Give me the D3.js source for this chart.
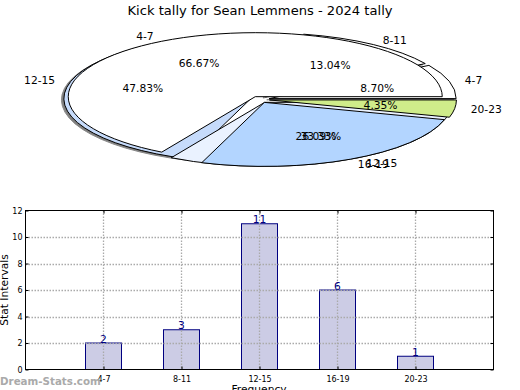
<!DOCTYPE html>
<html>
<head>
<meta charset="utf-8">
<script src="https://d3js.org/d3.v7.min.js"></script>
<style>
	html, body { margin: 0; padding: 0; background: #fff; overflow: hidden; }
	svg { display: block; }
	text { font-family: "DejaVu Sans", sans-serif; fill: #000; }
</style>
</head>
<body>
<div id="chart"></div>
<script>
	// Data
	const intervals = ["4-7", "8-11", "12-15", "16-19", "20-23"];
	const tally = [2, 3, 11, 6, 1];
	const intervalColors = ["#ffffff", "#ffffff", "#c6dbfb", "#b3d5ff", "#cfec8a"];
	const secondIntervals = ["4-7", "12-15"];
	const secondTally = [2, 1];
	const secondColors = ["#ffffff", "#eaf2ff"];
	const yTicks = [0, 2, 4, 6, 8, 10, 12];

	const width = 520, height = 390;
	const svg = d3.select("#chart").append("svg").attr("width", width).attr("height", height);

	svg.append("text").attr("x", 260).attr("y", 15).attr("text-anchor", "middle")
		.style("font-size", "13.1px").text("Kick tally for Sean Lemmens - 2024 tally");

	// Pies: squashed ellipses with exploded wedges, angles run counter clockwise from east
	const R = 187, squash = 64 / 187, cx = 260, cy = 99.5, explode = 9.5;

	const pie = d3.pie().sort(null).startAngle(Math.PI / 2).endAngle(Math.PI / 2 - 2 * Math.PI);
	const arc = d3.arc().innerRadius(0).outerRadius(R);
	const midAngle = d => Math.PI / 2 - (d.startAngle + d.endAngle) / 2;
	const polar = (d, r) => [cx + r * Math.cos(midAngle(d)), cy - r * squash * Math.sin(midAngle(d))];
	const percent = (d, vals) => d3.format(".2f")(100 * d.value / d3.sum(vals)) + "%";

	const first = pie(tally).map((d, i) => ({ ...d, name: intervals[i], color: intervalColors[i], vals: tally }));
	const second = pie(secondTally).map((d, i) => ({ ...d, name: secondIntervals[i], color: secondColors[i], vals: secondTally }));

	const drawWedges = (g, wedges) => g.selectAll("path").data(wedges).join("path")
		.attr("transform", d => {
			const p = polar(d, explode);
			return `translate(${p[0]},${p[1]}) scale(1,${squash})`;
		})
		.attr("d", arc)
		.attr("fill", d => d.color)
		.attr("stroke", "#000")
		.attr("stroke-width", 1)
		.style("vector-effect", "non-scaling-stroke");

	// shadow
	svg.append("g").attr("transform", "translate(-2.4,1.2)").call(drawWedges, first.slice(0, 3))
		.selectAll("path").attr("fill", "#808080").attr("stroke", "#888");

	drawWedges(svg.append("g"), first.slice(0, 3));
	drawWedges(svg.append("g"), second);
	drawWedges(svg.append("g"), first.slice(3));

	const pieLabels = first.concat(second);
	svg.append("g").selectAll("text").data(pieLabels).join("text")
		.attr("x", d => polar(d, R * 0.6 + explode)[0])
		.attr("y", d => polar(d, R * 0.6 + explode)[1] + 4)
		.attr("text-anchor", "middle")
		.style("font-size", "10.7px")
		.text(d => percent(d, d.vals));
	svg.append("g").selectAll("text").data(pieLabels).join("text")
		.attr("x", d => polar(d, R * 1.1 + 7)[0])
		.attr("y", d => polar(d, R * 1.1 + 7)[1] + 4)
		.attr("text-anchor", d => Math.cos(midAngle(d)) < 0 ? "end" : "start")
		.style("font-size", "10.7px")
		.text(d => d.name);

	// Bars
	const plot = { left: 25.5, right: 493.5, top: 210.5, bottom: 369.5 };
	const x = d3.scalePoint().domain(["", ...intervals, " "]).range([plot.left, plot.right]);
	const y = d3.scaleLinear().domain([0, 12]).range([plot.bottom, plot.top]);
	const barWidth = 36;

	svg.append("g").selectAll("rect").data(intervals).join("rect")
		.attr("x", d => x(d) - barWidth / 2)
		.attr("y", (d, i) => y(tally[i]))
		.attr("width", barWidth)
		.attr("height", (d, i) => y(0) - y(tally[i]))
		.attr("fill", "#ccccE5")
		.attr("stroke", "#000080");

	const grid = svg.append("g").attr("stroke", "#aaa").attr("stroke-dasharray", "1.5,1.5").attr("stroke-width", 1.3);
	grid.selectAll(".gy").data(yTicks.slice(1, -1)).join("line").attr("class", "gy")
		.attr("x1", plot.left).attr("x2", plot.right).attr("y1", d => Math.round(y(d)) + 0.5).attr("y2", d => Math.round(y(d)) + 0.5);
	grid.selectAll(".gx").data(intervals).join("line").attr("class", "gx")
		.attr("x1", d => x(d)).attr("x2", d => x(d)).attr("y1", plot.top).attr("y2", plot.bottom);

	svg.append("rect").attr("x", plot.left).attr("y", plot.top)
		.attr("width", plot.right - plot.left).attr("height", plot.bottom - plot.top)
		.attr("fill", "none").attr("stroke", "#000");

	svg.append("g").selectAll("text").data(intervals).join("text")
		.attr("x", d => x(d))
		.attr("y", (d, i) => y(tally[i]) - 0.5)
		.attr("text-anchor", "middle")
		.style("font-size", "10.7px")
		.style("fill", "#000080")
		.text((d, i) => tally[i]);

	// Axes
	const xAxis = svg.append("g").attr("transform", `translate(0,${plot.bottom})`)
		.call(d3.axisBottom(x).tickValues(intervals).tickSize(-3).tickPadding(7));
	const yAxis = svg.append("g").attr("transform", `translate(${plot.left},0)`)
		.call(d3.axisLeft(y).tickValues(yTicks).tickSize(-3).tickPadding(3));
	[xAxis, yAxis].forEach(a => {
		a.select(".domain").remove();
		a.selectAll("text").style("font-size", "8px").style("font-family", '"DejaVu Sans", sans-serif');
	});
	// mirrored ticks on the top and right edges
	svg.append("g").attr("transform", `translate(0,${plot.top})`)
		.call(d3.axisTop(x).tickValues(intervals).tickSize(-3).tickFormat(""))
		.select(".domain").remove();
	svg.append("g").attr("transform", `translate(${plot.right},0)`)
		.call(d3.axisRight(y).tickValues(yTicks).tickSize(-3).tickFormat(""))
		.select(".domain").remove();

	svg.append("text").attr("transform", "translate(8,290) rotate(-90)").attr("text-anchor", "middle")
		.style("font-size", "10.7px").text("Stat Intervals");
	svg.append("text").attr("x", 259).attr("y", 393).attr("text-anchor", "middle")
		.style("font-size", "10.7px").text("Frequency");
	svg.append("text").attr("x", 0).attr("y", 385)
		.style("font-size", "10.3px").style("font-weight", "bold").style("fill", "#aaa").text("Dream-Stats.com");
</script>
</body>
</html>
